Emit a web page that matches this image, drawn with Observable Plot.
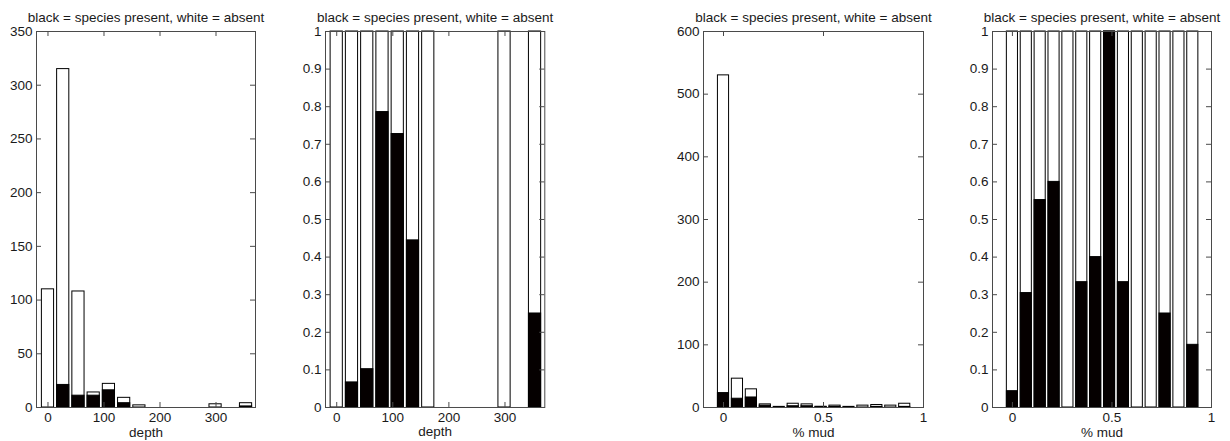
<!DOCTYPE html>
<html><head><meta charset="utf-8">
<script src="https://cdn.jsdelivr.net/npm/d3@7"></script>
<script src="https://cdn.jsdelivr.net/npm/@observablehq/plot@0.6"></script>
<style>
body{margin:0;background:#fff}
#wrap{position:relative;width:1230px;height:441px;overflow:hidden;background:#fff}
#wrap svg{position:absolute;top:0}
</style>
</head><body><div id="wrap"></div>
<script>
const titleText = "black = species present, white = absent";

// depth histogram (bin centres) and counts
const depthCenters = [0, 27.2, 54.4, 81.6, 108.8, 136, 163.2, 190.4, 217.6, 244.8, 272, 299.2, 326.4, 353.6];
const depthTotal   = [110, 315, 108, 14, 22, 9, 2, 0, 0, 0, 0, 3, 0, 4];
const depthPresent = [0, 21, 11, 11, 16, 4, 0, 0, 0, 0, 0, 0, 0, 1];

// % mud histogram (bin centres) and counts
const mudCenters = [0, 0.0697, 0.1394, 0.2091, 0.2788, 0.3485, 0.4182, 0.4879, 0.5576, 0.6273, 0.697, 0.7667, 0.8364, 0.9061];
const mudTotal   = [530, 46, 29, 5, 1, 6, 5, 1, 3, 1, 3, 4, 3, 6];
const mudPresent = [23, 14, 16, 3, 0, 2, 2, 1, 1, 0, 0, 1, 0, 1];

// tick labels
const depthTicks = [0, 100, 200, 300];
const mudTicks = [0, 0.5, 1];
const depthCountTicks = [0, 50, 100, 150, 200, 250, 300, 350];
const mudCountTicks = [0, 100, 200, 300, 400, 500, 600];
const fracTicks = [0, 0.1, 0.2, 0.3, 0.4, 0.5, 0.6, 0.7, 0.8, 0.9, 1];

const H = 441, mT = 31, mB = 34, mL = 42, mR = 14;
const frameColor = "#4a4a4a";
const textColor = "#1a1a1a";
const barFrac = 0.8;

function panel({left, right, xDomain, yDomain, xTicks, yTicks, centers, white, black, xlabel}) {
  const fw = right - left, fh = H - mT - mB;
  const bw = (centers[1] - centers[0]) * barFrac / 2;
  const rows = centers.map((c, i) => ({c, w: white[i], b: black[i]}));
  const tickLen = 5;
  const svg = Plot.plot({
    width: fw + mL + mR, height: H,
    marginLeft: mL, marginRight: mR, marginTop: mT, marginBottom: mB,
    style: {fontFamily: "'Liberation Sans', Arial, sans-serif", fontSize: "13.5px", color: textColor, background: "transparent"},
    x: {domain: xDomain},
    y: {domain: yDomain},
    marks: [
      Plot.rect(rows.filter(d => d.w > 0), {x1: d => d.c - bw, x2: d => d.c + bw, y1: 0, y2: d => d.w, fill: "white", stroke: "black", strokeWidth: 1}),
      Plot.rect(rows.filter(d => d.b > 0), {x1: d => d.c - bw, x2: d => d.c + bw, y1: 0, y2: d => d.b, fill: "#050000", stroke: "black", strokeWidth: 1}),
      Plot.frame({stroke: frameColor}),
      Plot.tickY(yTicks, {y: d => d, insetRight: fw - tickLen, stroke: frameColor}),
      Plot.tickY(yTicks, {y: d => d, insetLeft: fw - tickLen, stroke: frameColor}),
      Plot.tickX(xTicks, {x: d => d, insetTop: fh - tickLen, stroke: frameColor}),
      Plot.tickX(xTicks, {x: d => d, insetBottom: fh - tickLen, stroke: frameColor}),
      Plot.axisY({ticks: yTicks, tickSize: 0, tickPadding: 4, label: null, tickFormat: d => String(d)}),
      Plot.axisX({ticks: xTicks, tickSize: 0, tickPadding: 5, label: null, tickFormat: d => String(d)}),
      Plot.text([titleText], {frameAnchor: "top", dy: -19, fontSize: 13.5}),
      Plot.text([xlabel], {frameAnchor: "bottom", dy: 29, fontSize: 13.5})
    ]
  });
  svg.style.left = (left - mL) + "px";
  document.getElementById("wrap").appendChild(svg);
}

const depthFrac = depthPresent.map((p, i) => depthTotal[i] > 0 ? p / depthTotal[i] : 0);
const depthAny = depthTotal.map(t => t > 0 ? 1 : 0);
const mudFrac = mudPresent.map((p, i) => mudTotal[i] > 0 ? p / mudTotal[i] : 0);
const mudAny = mudTotal.map(t => t > 0 ? 1 : 0);

panel({left: 36, right: 255, xDomain: [-20.5, 370.5], yDomain: [0, 350], xTicks: depthTicks, yTicks: depthCountTicks,
  centers: depthCenters, white: depthTotal, black: depthPresent, xlabel: "depth"});
panel({left: 324.7, right: 544, xDomain: [-20, 371], yDomain: [0, 1], xTicks: depthTicks, yTicks: fracTicks,
  centers: depthCenters, white: depthAny, black: depthFrac, xlabel: "depth"});
panel({left: 702.7, right: 922.7, xDomain: [-0.1, 1], yDomain: [0, 600], xTicks: mudTicks, yTicks: mudCountTicks,
  centers: mudCenters, white: mudTotal, black: mudPresent, xlabel: "% mud"});
panel({left: 992, right: 1211, xDomain: [-0.1, 1], yDomain: [0, 1], xTicks: mudTicks, yTicks: fracTicks,
  centers: mudCenters, white: mudAny, black: mudFrac, xlabel: "% mud"});
</script>
</body></html>
